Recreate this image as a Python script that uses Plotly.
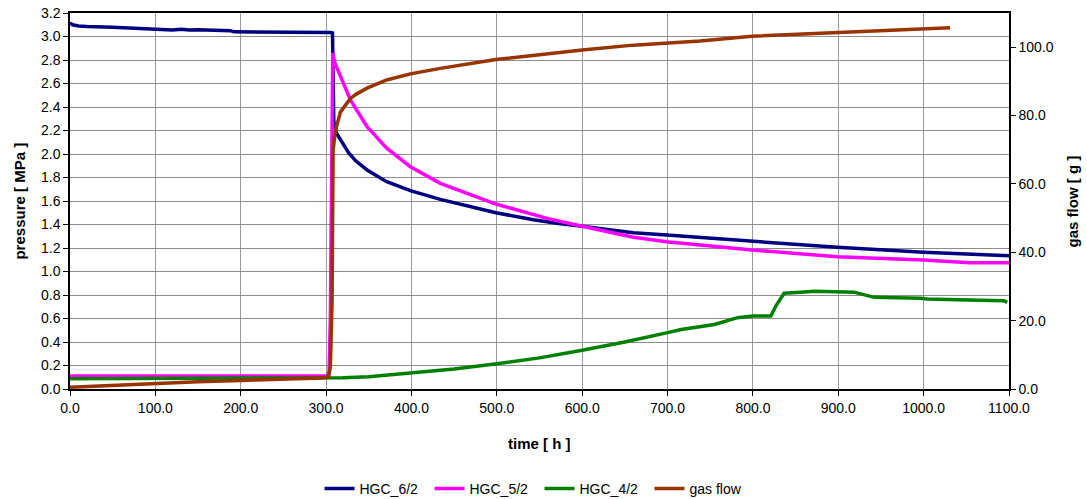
import plotly.graph_objects as go

# ---- data ----
t_hgc62 = [0, 3, 10, 20, 50, 100, 110, 120, 130, 140, 150, 188, 192, 293, 300, 305, 307.5, 308, 309, 312,
           316.7, 326.5, 335, 348, 371, 398.7, 433.8, 470, 499, 543, 570, 600, 660, 699, 738, 799, 899, 1000, 1066, 1100]
p_hgc62 = [3.115, 3.10, 3.09, 3.085, 3.078, 3.064, 3.06, 3.055, 3.062, 3.055, 3.058, 3.05, 3.04, 3.038, 3.036, 3.033,
           3.03, 2.4, 2.28, 2.18, 2.12, 2.01, 1.94, 1.864, 1.764, 1.688, 1.614, 1.55, 1.50, 1.44, 1.41, 1.385, 1.33,
           1.31, 1.29, 1.254, 1.206, 1.163, 1.14, 1.135]

t_hgc52 = [0, 302, 303.5, 305, 306.5, 307.8, 310, 316.7, 328.5, 348, 371, 398.7, 433.8, 499, 543, 560, 600, 660,
           699, 738, 799, 899, 1000, 1054, 1100]
p_hgc52 = [0.11, 0.11, 0.15, 0.6, 1.8, 2.86, 2.78, 2.658, 2.46, 2.232, 2.049, 1.892, 1.75, 1.574, 1.481, 1.45,
           1.385, 1.291, 1.254, 1.226, 1.183, 1.126, 1.098, 1.075, 1.075]

t_hgc42 = [0, 100, 200, 300, 320, 350, 400, 450, 500, 550, 600, 650, 700, 716, 755, 782, 800, 821, 827, 836.6,
           856, 872, 918.5, 942, 996.5, 1004, 1039, 1094, 1098]
p_hgc42 = [0.088, 0.09, 0.092, 0.094, 0.096, 0.105, 0.14, 0.17, 0.215, 0.265, 0.33, 0.40, 0.48, 0.506, 0.549,
           0.607, 0.621, 0.621, 0.708, 0.815, 0.824, 0.832, 0.824, 0.78, 0.772, 0.766, 0.76, 0.751, 0.737]

t_gas = [0, 50, 100, 150, 200, 250, 295, 303, 305, 307, 308.2, 311, 316.7, 328.5, 335, 348, 371, 398.7, 433.8,
         499, 543, 600, 660, 715, 738, 799, 899, 1000, 1031]
g_gas = [0.5, 1.1, 1.7, 2.1, 2.5, 2.9, 3.2, 3.6, 6.5, 26, 70, 75.5, 81, 85, 86.2, 88, 90.4, 92.2, 93.8, 96.4,
         97.7, 99.2, 100.6, 101.6, 101.8, 103.2, 104.2, 105.2, 105.7]

x_ticks = [0, 100, 200, 300, 400, 500, 600, 700, 800, 900, 1000, 1100]
y_ticks = [0.0, 0.2, 0.4, 0.6, 0.8, 1.0, 1.2, 1.4, 1.6, 1.8, 2.0, 2.2, 2.4, 2.6, 2.8, 3.0, 3.2]
y2_ticks = [0, 20, 40, 60, 80, 100]

FONT = "Liberation Sans, Arial, sans-serif"
LW = 3.5

fig = go.Figure()
fig.add_trace(go.Scatter(x=t_hgc62, y=p_hgc62, name="HGC_6/2", mode="lines",
                         line=dict(color="#000080", width=LW)))
fig.add_trace(go.Scatter(x=t_hgc52, y=p_hgc52, name="HGC_5/2", mode="lines",
                         line=dict(color="#FF00FF", width=LW)))
fig.add_trace(go.Scatter(x=t_hgc42, y=p_hgc42, name="HGC_4/2", mode="lines",
                         line=dict(color="#008000", width=LW)))
fig.add_trace(go.Scatter(x=t_gas, y=g_gas, name="gas flow", mode="lines", yaxis="y2",
                         line=dict(color="#993300", width=LW)))

W, H = 1087, 499
L, R, T, B = 69.5, 1009.5, 13, 389

fig.update_layout(
    width=W, height=H,
    margin=dict(l=L, r=W - R, t=T, b=H - B, autoexpand=False),
    paper_bgcolor="white", plot_bgcolor="white",
    font=dict(family=FONT, size=14, color="black"),
    showlegend=True,
    legend=dict(orientation="h", x=0.5, xanchor="center", y=(B - 489) / (B - T), yanchor="middle",
                font=dict(size=14, family=FONT), itemwidth=30, tracegroupgap=0,
                entrywidth=65, entrywidthmode="pixels",
                bgcolor="rgba(0,0,0,0)"),
    xaxis=dict(range=[0, 1100], tickvals=x_ticks, ticktext=[f"{v:.1f}" for v in x_ticks],
               showgrid=True, gridcolor="#9a9a9a", gridwidth=1,
               showline=True, linecolor="black", linewidth=1.5, mirror=True,
               ticks="outside", ticklen=5, tickcolor="black", zeroline=False,
               tickfont=dict(size=14)),
    yaxis=dict(range=[0, 3.2], tickvals=y_ticks, ticktext=[f"{v:.1f}" for v in y_ticks],
               showgrid=True, gridcolor="#8c8c8c", gridwidth=1,
               showline=True, linecolor="black", linewidth=1.5,
               ticks="outside", ticklen=5, tickcolor="black", zeroline=False,
               tickfont=dict(size=14)),
    yaxis2=dict(range=[0, 110], tickvals=y2_ticks, ticktext=[f"{v:.1f}" for v in y2_ticks],
                overlaying="y", side="right", showgrid=False,
                showline=True, linecolor="black", linewidth=1.5,
                ticks="outside", ticklen=5, tickcolor="black", zeroline=False,
                tickfont=dict(size=14)),
    annotations=[
        dict(text="<b>time [ h ]</b>", xref="paper", yref="paper", x=0.5, y=(B - 443) / (B - T),
             showarrow=False, xanchor="center", yanchor="middle", font=dict(size=15)),
        dict(text="<b>pressure [ MPa ]</b>", xref="paper", yref="paper", x=(18 - L) / (R - L),
             y=0.5, showarrow=False, textangle=-90, xanchor="center", yanchor="middle",
             font=dict(size=15)),
        dict(text="<b>gas flow [ g ]</b>", xref="paper", yref="paper", x=(1073 - L) / (R - L),
             y=0.5, showarrow=False, textangle=-90, xanchor="center", yanchor="middle",
             font=dict(size=15)),
    ],
)

fig.write_html("out.html", config={"displayModeBar": False},
               post_script="document.body.style.margin='0';document.body.style.overflow='hidden';")
